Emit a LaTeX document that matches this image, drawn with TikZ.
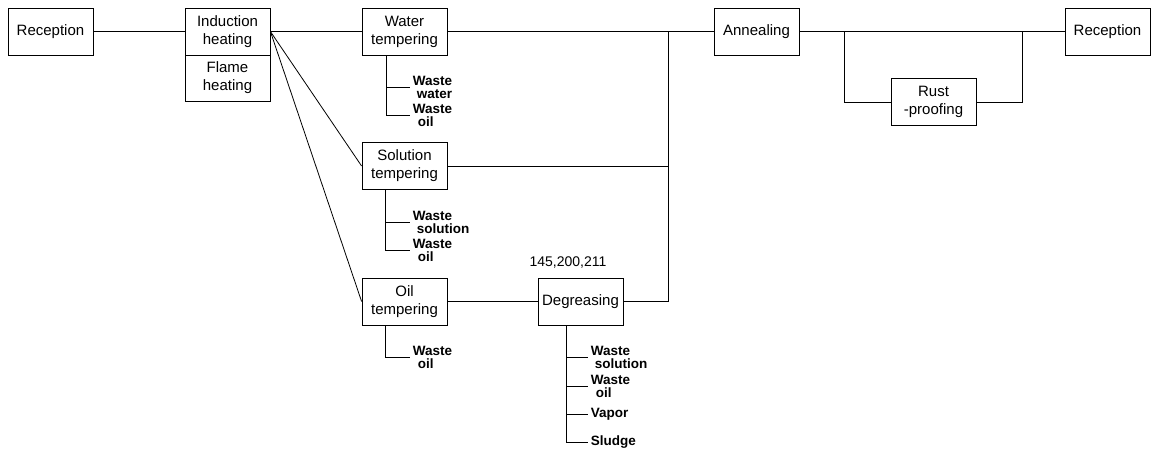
\documentclass[tikz,border=0pt]{standalone}
\usepackage{fontspec}
\setmainfont{Liberation Sans}
\usepackage{tikz}

\begin{document}
\begin{tikzpicture}[x=1pt,y=-1pt,line width=0.8pt,
    box/.style={draw, minimum width=85pt, minimum height=47pt, inner sep=0pt, align=center, font=\fontsize{15}{18}\selectfont},
    waste/.style={anchor=west, inner xsep=2.5pt, inner ysep=0pt, align=left, font=\bfseries\fontsize{13.5}{13}\selectfont}]
  \useasboundingbox (0,0) rectangle (1152,452);
      \node[box] (R1) at (50.5,31.5) {Reception};
      \node[box] (IH) at (227.5,31.5) {Induction\\heating};
      \node[box, minimum height=46pt] (FH) at (227.5,78) {Flame\\heating};
      \node[box] (WT) at (404.5,31.5) {Water\\tempering};
      \node[box] (ST) at (404.5,166) {Solution\\tempering};
      \node[box] (OT) at (404.5,301.5) {Oil\\tempering};
      \node[box] (DG) at (580.5,301.5) {Degreasing};
      \node[box] (AN) at (756.5,31.5) {Annealing};
      \node[box] (RP) at (933.5,102) {Rust\\-proofing};
      \node[box] (R2) at (1107.5,31.5) {Reception};
      \node[font=\fontsize{14}{16}\selectfont] (N) at (568,263) {145,200,211};
        % waste outputs
      \node[waste] (W1) at (410,87) {Waste\\\hspace*{4pt}water};
      \node[waste] (W2) at (410,115) {Waste\\\hspace*{5pt}oil};
      \node[waste] (W3) at (410,222) {Waste\\\hspace*{4pt}solution};
      \node[waste] (W4) at (410,250) {Waste\\\hspace*{5pt}oil};
      \node[waste] (W5) at (410,357) {Waste\\\hspace*{5pt}oil};
      \node[waste] (D1) at (588,357) {Waste\\\hspace*{4pt}solution};
      \node[waste] (D2) at (588,386) {Waste\\\hspace*{5pt}oil};
      \node[waste] (D3) at (588,414) {Vapor};
      \node[waste] (D4) at (588,442) {Sludge};
        % main line
      \coordinate (J) at (668,31.5);
      \coordinate (S1) at (844,31.5);
      \coordinate (S2) at (1022,31.5);
      \draw (R1) -- (IH);
      \draw (IH.east) -- (WT.west);
      \draw (IH.east) -- (ST.west);
      \draw (IH.east) -- (OT.west);
      \draw (WT) -- (AN);
      \draw (ST.east) -- (J |- ST.east);
      \draw (OT) -- (DG);
      \draw (J) -- (J |- DG.east) -- (DG.east);
      \draw (AN) -- (R2);
      \draw (S1) |- (RP.west);
      \draw (RP.east) -| (S2);
        % waste trees
      \coordinate (a1) at ([xshift=25pt]WT.south west);
      \coordinate (a2) at ([xshift=24pt]ST.south west);
      \coordinate (a3) at ([xshift=24pt]OT.south west);
      \coordinate (a4) at ([xshift=29pt]DG.south west);
      \draw (a1) |- (W2.west);
      \draw (a1 |- W1.west) -- (W1.west);
      \draw (a2) |- (W4.west);
      \draw (a2 |- W3.west) -- (W3.west);
      \draw (a3) |- (W5.west);
      \draw (a4) |- (D4.west);
      \draw (a4 |- D1.west) -- (D1.west);
      \draw (a4 |- D2.west) -- (D2.west);
      \draw (a4 |- D3.west) -- (D3.west);
\end{tikzpicture}
\end{document}
